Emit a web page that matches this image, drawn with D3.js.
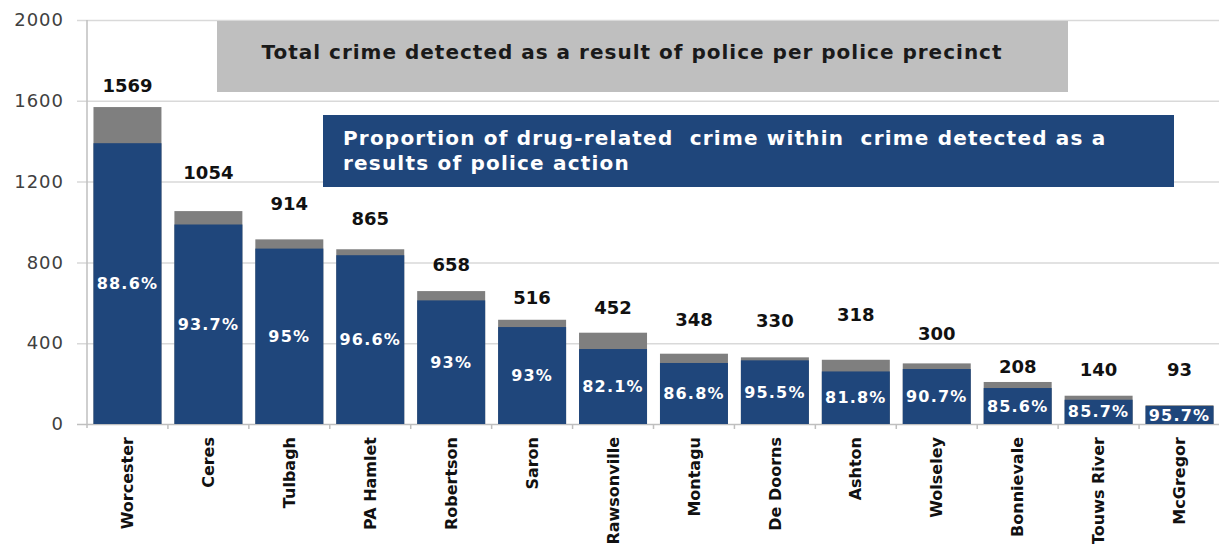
<!DOCTYPE html>
<html>
<head>
<meta charset="utf-8">
<script src="https://cdn.jsdelivr.net/npm/d3@7"></script>
<style>
  html, body { margin: 0; padding: 0; background: #fff; }
  svg { display: block; }
  text { font-family: "DejaVu Sans", "Open Sans", sans-serif; }
</style>
</head>
<body>
<svg id="chart" width="1219" height="544"></svg>
<script>
// Police precincts, ordered by total crime detected as a result of police action
const precincts = ["Worcester", "Ceres", "Tulbagh", "PA Hamlet", "Robertson", "Saron",
  "Rawsonville", "Montagu", "De Doorns", "Ashton", "Wolseley", "Bonnievale", "Touws River", "McGregor"];

// Total crime detected as a result of police action
const totalDetected = [1569, 1054, 914, 865, 658, 516, 452, 348, 330, 318, 300, 208, 140, 93];

// Share of that total which is drug-related (%)
const drugShare = [88.6, 93.7, 95, 96.6, 93, 93, 82.1, 86.8, 95.5, 81.8, 90.7, 85.6, 85.7, 95.7];

// Y axis ticks
const yTicks = [0, 400, 800, 1200, 1600, 2000];

// Captions for the two series
const totalCaption = "Total crime detected as a result of police per police precinct";
const drugCaptionLines = ["Proportion of drug-related  crime within  crime detected as a",
  "results of police action"];

// Layout: how far each total label sits above its bar (px)
const totalLabelLift = [21, 38, 36, 31, 26, 22, 25, 34, 37, 45, 30, 15, 26, 36];

const BLUE = "#1f467b";
const GREY = "#7f7f7f";

const svg = d3.select("#chart");
const margin = { left: 87, right: 1220, top: 20, bottom: 424 };

const x = d3.scaleBand()
  .domain(precincts)
  .range([margin.left, margin.right])
  .paddingInner(0.16)
  .paddingOuter(0.08);

const y = d3.scaleLinear()
  .domain([0, 2000])
  .range([margin.bottom, margin.top]);

// Gridlines + y axis labels
const yAxis = d3.axisLeft(y)
  .tickValues(yTicks)
  .tickSize(-(1219 - margin.left))
  .tickPadding(23)
  .tickFormat(d3.format("d"));

const gy = svg.append("g")
  .attr("transform", `translate(${margin.left},0)`)
  .call(yAxis);
gy.select(".domain").remove();
gy.selectAll(".tick line")
  .attr("x1", -10)
  .attr("stroke", d => d === 0 ? "#bfbfbf" : "#d9d9d9")
  .attr("stroke-width", 1.5);
gy.selectAll(".tick text")
  .attr("fill", "#404040")
  .style("font-size", "18px")
  .style("letter-spacing", "1px");

// Vertical axis line
svg.append("line")
  .attr("x1", margin.left).attr("x2", margin.left)
  .attr("y1", y(2000)).attr("y2", y(0) + 4)
  .attr("stroke", "#bfbfbf").attr("stroke-width", 1.5);

// Category boundary ticks along the x axis
const step = x.step();
const boundaries = d3.range(1, precincts.length).map(i => x(precincts[i]) - (step - x.bandwidth()) / 2);
svg.append("g").selectAll("line")
  .data(boundaries)
  .join("line")
  .attr("x1", d => d).attr("x2", d => d)
  .attr("y1", y(0)).attr("y2", y(0) + 5)
  .attr("stroke", "#bfbfbf").attr("stroke-width", 1.5);

const rows = precincts.map((p, i) => ({
  name: p,
  total: totalDetected[i],
  share: drugShare[i],
  drug: totalDetected[i] * drugShare[i] / 100,
  lift: totalLabelLift[i]
}));

// Total bars (grey), drug-related part (blue) on top of them
const bars = svg.append("g");
bars.selectAll("rect.total")
  .data(rows)
  .join("rect")
  .attr("class", "total")
  .attr("x", d => x(d.name))
  .attr("width", x.bandwidth())
  .attr("y", d => y(d.total))
  .attr("height", d => y(0) - y(d.total))
  .attr("fill", GREY);

bars.selectAll("rect.drug")
  .data(rows)
  .join("rect")
  .attr("class", "drug")
  .attr("x", d => x(d.name))
  .attr("width", x.bandwidth())
  .attr("y", d => y(d.drug))
  .attr("height", d => y(0) - y(d.drug))
  .attr("fill", BLUE);

// Percentage labels centred in the blue segment
svg.append("g").selectAll("text")
  .data(rows)
  .join("text")
  .attr("x", d => x(d.name) + x.bandwidth() / 2)
  .attr("y", d => (y(d.drug) + y(0)) / 2)
  .attr("dy", "0.35em")
  .attr("text-anchor", "middle")
  .attr("fill", "#fff")
  .style("font-size", "16px")
  .style("font-weight", "bold")
  .style("letter-spacing", "1.2px")
  .text(d => d.share + "%");

// Total value labels
svg.append("g").selectAll("text")
  .data(rows)
  .join("text")
  .attr("x", d => x(d.name) + x.bandwidth() / 2)
  .attr("y", d => y(d.total) - d.lift)
  .attr("dy", "0.35em")
  .attr("text-anchor", "middle")
  .attr("fill", "#111")
  .style("font-size", "18px")
  .style("font-weight", "bold")
  .text(d => d.total);

// Category labels, rotated
svg.append("g").selectAll("text")
  .data(rows)
  .join("text")
  .attr("transform", d => `translate(${x(d.name) + x.bandwidth() / 2},${y(0) + 13}) rotate(-90)`)
  .attr("dy", "0.35em")
  .attr("text-anchor", "end")
  .attr("fill", "#111")
  .style("font-size", "16px")
  .style("font-weight", "bold")
  .text(d => d.name);

// Caption boxes
svg.append("rect")
  .attr("x", 217).attr("y", 21).attr("width", 851).attr("height", 71)
  .attr("fill", "#bfbfbf");
svg.append("text")
  .attr("x", 632).attr("y", 52)
  .attr("dy", "0.35em")
  .attr("text-anchor", "middle")
  .attr("fill", "#1a1a1a")
  .style("font-size", "20px")
  .style("font-weight", "bold")
  .style("letter-spacing", "1px")
  .text(totalCaption);

svg.append("rect")
  .attr("x", 323).attr("y", 115).attr("width", 851).attr("height", 72)
  .attr("fill", BLUE);
svg.append("g").selectAll("text")
  .data(drugCaptionLines)
  .join("text")
  .attr("x", 343)
  .attr("y", (d, i) => 138 + i * 25)
  .attr("dy", "0.35em")
  .attr("fill", "#fff")
  .style("font-size", "20px")
  .style("font-weight", "bold")
  .style("letter-spacing", "1.2px")
  .style("white-space", "pre")
  .attr("xml:space", "preserve")
  .text(d => d);
</script>
</body>
</html>
